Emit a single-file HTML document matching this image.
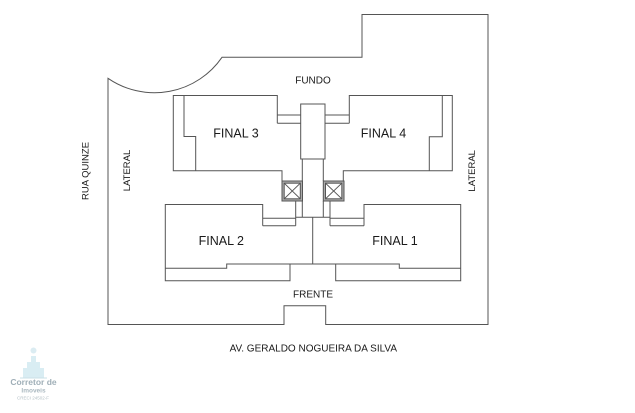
<!DOCTYPE html>
<html><head><meta charset="utf-8"><style>
html,body{margin:0;padding:0;background:#fff;}
svg{display:block;}
text{font-family:"Liberation Sans",Arial,sans-serif;fill:#1a1a1a;}
</style></head><body>
<svg width="635" height="413" viewBox="0 0 635 413" xmlns="http://www.w3.org/2000/svg">
<rect width="635" height="413" fill="#fff"/>
<g fill="none" stroke="#555" stroke-width="1">
<!-- outer boundary -->
<path d="M108,78.3 A82,82 0 0 0 222,57.3 L362,57.3 L362,14.5 L488,14.5 L488,324.5 L325.7,324.5 L325.7,305.7 L284,305.7 L284,324.5 L108,324.5 Z"/>
<!-- Final 3 -->
<path d="M277.3,123.3 L277.3,95.5 L173.3,95.5 L173.3,170.7 L282,170.7 L282,181"/>
<path d="M184,95.5 L184,136.5 L195.7,136.5 L195.7,170.7"/>
<path d="M277.3,115 L300.7,115 M277.3,123.3 L300.7,123.3"/>
<!-- core -->
<rect x="300.7" y="104" width="24.3" height="55"/>
<path d="M302.3,159 L302.3,181 M323.3,159 L323.3,181"/>
<!-- Final 4 -->
<path d="M349.3,123.3 L349.3,95.5 L452.3,95.5 L452.3,170.7 L343.3,170.7 L343.3,181"/>
<path d="M442.3,95.5 L442.3,136.7 L429.3,136.7 L429.3,170.7"/>
<path d="M325,115 L349.3,115 M325,123.3 L349.3,123.3"/>
<!-- below elevators -->
<path d="M295.7,201 L295.7,225.7 M302.3,201 L302.3,217.3 M295.7,217.3 L330,217.3 M323.3,201 L323.3,217.3 M330,201 L330,225.7"/>
<path d="M312.7,217.3 L312.7,264"/>
<!-- Final 2 -->
<path d="M262.7,225.7 L262.7,204.5 L165.3,204.5 L165.3,280.7 L290,280.7 L290,264"/>
<path d="M165.3,268.3 L226.7,268.3 L226.7,264 L399.3,264 L399.3,268.3 L460.7,268.3"/>
<path d="M262.7,218.3 L295.7,218.3 M262.7,225.7 L295.7,225.7"/>
<!-- Final 1 -->
<path d="M364,225.7 L364,204.5 L460.7,204.5 L460.7,280.7 L335.7,280.7 L335.7,264"/>
<path d="M330,218.3 L364,218.3 M330,225.7 L364,225.7"/>
</g>
<!-- elevators -->
<g stroke="#555" stroke-width="1">
<rect x="282" y="181" width="20.5" height="20" fill="#aaa"/>
<rect x="284.2" y="183.2" width="16.1" height="15.6" fill="#fff"/>
<path d="M284.2,183.2 L300.3,198.8 M300.3,183.2 L284.2,198.8" fill="none"/>
<rect x="323.3" y="181" width="20.7" height="20" fill="#aaa"/>
<rect x="325.5" y="183.2" width="16.3" height="15.6" fill="#fff"/>
<path d="M325.5,183.2 L341.8,198.8 M341.8,183.2 L325.5,198.8" fill="none"/>
</g>
<!-- labels -->
<text x="313" y="83.5" font-size="10" text-anchor="middle">FUNDO</text>
<text x="236" y="137.5" font-size="12.5" text-anchor="middle">FINAL 3</text>
<text x="383.5" y="137.5" font-size="12.5" text-anchor="middle">FINAL 4</text>
<text x="221.3" y="245.2" font-size="12.5" text-anchor="middle">FINAL 2</text>
<text x="395" y="245.2" font-size="12.5" text-anchor="middle">FINAL 1</text>
<text x="313" y="297.5" font-size="10" text-anchor="middle">FRENTE</text>
<text x="313.3" y="351.5" font-size="10" text-anchor="middle">AV. GERALDO NOGUEIRA DA SILVA</text>
<text transform="translate(130.2,170.5) rotate(-90)" font-size="9.5" text-anchor="middle">LATERAL</text>
<text transform="translate(475.2,170.8) rotate(-90)" font-size="9.5" text-anchor="middle">LATERAL</text>
<text transform="translate(88.5,171) rotate(-90)" font-size="9.5" text-anchor="middle">RUA QUINZE</text>
<!-- logo -->
<g opacity="0.75">
<circle cx="33.5" cy="350.5" r="3" fill="#cfe6ee"/>
<path d="M23,378 L23,368 L27,368 L27,362 L31,362 L31,356 L36,356 L36,362 L40,362 L40,368 L44,368 L44,378 Z" fill="#cde7ef"/>
<path d="M20,378 L47,378" stroke="#b9d6df" stroke-width="1"/>
<text x="33.5" y="385" font-size="8.5" font-weight="bold" text-anchor="middle" style="fill:#7f949f">Corretor de</text>
<text x="33.5" y="392.5" font-size="6.5" font-weight="bold" text-anchor="middle" style="fill:#8ea1ab">Imoveis</text>
<text x="33" y="399.5" font-size="4.5" text-anchor="middle" style="fill:#9aaab2">CRECI 24502-F</text>
</g>
</svg>
</body></html>
